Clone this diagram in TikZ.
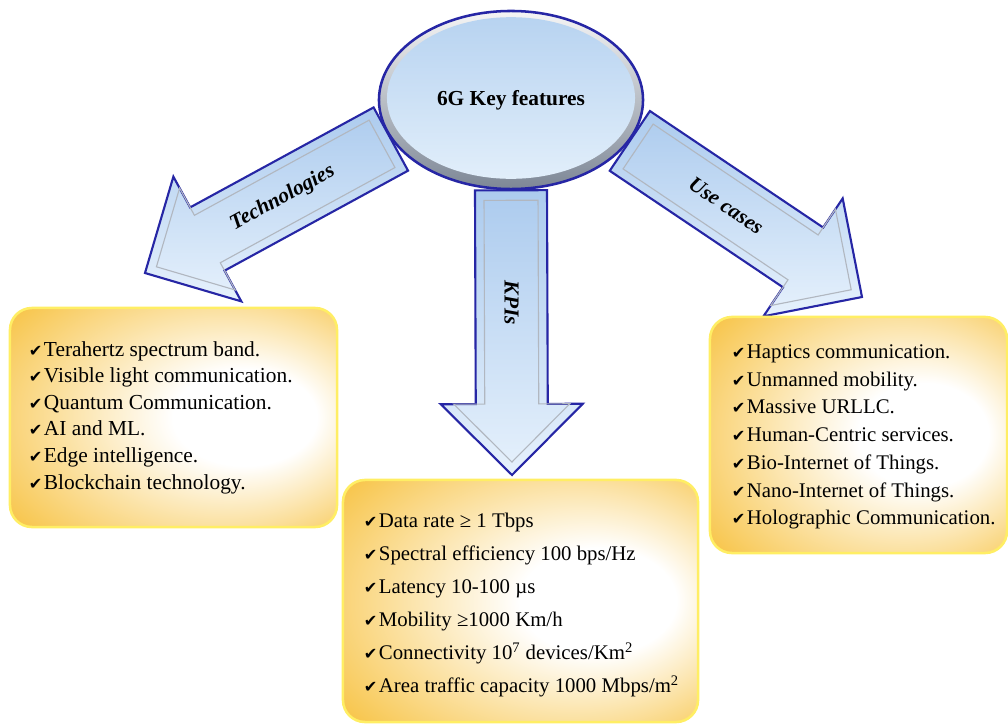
\documentclass[tikz,border=0pt]{standalone}
\usepackage{fontspec}
\setmainfont{Liberation Serif}
\newfontfamily\symfont{DejaVu Sans}
\usetikzlibrary{calc,shapes.geometric,backgrounds}

\definecolor{arrowline}{RGB}{38,38,165}
\definecolor{arrowdark}{RGB}{172,203,238}
\definecolor{arrowlight}{RGB}{230,241,252}
\definecolor{gold}{RGB}{246,186,40}
\definecolor{glow}{RGB}{255,238,100}
\definecolor{rimgray}{RGB}{125,135,150}
\definecolor{ovaltop}{RGB}{182,210,240}
\definecolor{ovalbottom}{RGB}{228,240,251}

\pgfdeclareradialshading{boxglow}{\pgfpoint{14bp}{0bp}}{color(0bp)=(white); color(11bp)=(white); color(42bp)=(gold); color(50bp)=(gold)}

\newcommand{\chk}{{\symfont\fontsize{11.5}{11.5}\selectfont ✔}\kern1pt}

% block arrow from #1 to its tip #2
\newcommand{\blockarrow}[2]{%
  \coordinate (#1b) at ($(#2)!1.775cm!(#1)$);
  \coordinate (#1i) at ($(#1)!0.25cm!(#2)$);
  \coordinate (#2i) at ($(#2)!0.325cm!(#1)$);
  \draw[arrowbody] ($(#1)!0.9cm!90:(#2)$) -- ($(#1b)!0.9cm!90:(#2)$) -- ($(#1b)!1.775cm!90:(#2)$) -- (#2)
    -- ($(#1b)!1.775cm!-90:(#2)$) -- ($(#1b)!0.9cm!-90:(#2)$) -- ($(#1)!0.9cm!-90:(#2)$) -- cycle;
  \draw[bevel] ($(#1i)!0.675cm!90:(#2)$) -- ($(#1b)!0.675cm!90:(#2)$) -- ($(#1b)!1.45cm!90:(#2)$) -- (#2i)
    -- ($(#1b)!1.45cm!-90:(#2)$) -- ($(#1b)!0.675cm!-90:(#2)$) -- ($(#1i)!0.675cm!-90:(#2)$) -- cycle;
}

\tikzset{
  keyoval/.style={ellipse, draw=arrowline, line width=1.8pt, minimum width=6.6cm, minimum height=4.45cm,
    inner sep=0pt, top color=gray!8, bottom color=rimgray, font=\bfseries\fontsize{15.2}{16}\selectfont,
    path picture={\shade[top color=ovaltop, bottom color=ovalbottom]
      ([yshift=0.05cm]path picture bounding box.center) ellipse [x radius=3.1cm, y radius=2.02cm];}},
  arrowbody/.style={draw=arrowline, line width=1.5pt, line join=miter, top color=arrowdark, bottom color=arrowlight},
  bevel/.style={draw=rimgray!60, line width=0.8pt, line join=miter},
  arrowlabel/.style={inner sep=0pt, font=\bfseries\itshape\fontsize{15.2}{16}\selectfont},
  listbox/.style={rounded corners=0.55cm, draw=glow, line width=1.8pt, shading=boxglow, inner sep=0pt},
  listtext/.style={anchor=west, align=left, inner sep=0pt}
}

\begin{document}
\begin{tikzpicture}[x=0.025cm, y=-0.025cm]
  \useasboundingbox (0,0) rectangle (1008,724);

  \node[keyoval] (key) at (511,100) {6G Key features};

  % arrows
  \coordinate (techS) at (key.198);
  \coordinate (techT) at (145,273);
  \coordinate (kpiS) at (key.south);
  \coordinate (kpiT) at (512,475);
  \coordinate (useS) at (key.-19);
  \coordinate (useT) at (862,297);
  \begin{scope}[on background layer]
    \fill[white] (0,0) rectangle (1008,724);
    \blockarrow{techS}{techT}
    \blockarrow{kpiS}{kpiT}
    \blockarrow{useS}{useT}
  \end{scope}
  \node[arrowlabel, rotate=28.8] (techlabel) at ($(techS)!0.44!(techT)$) {Technologies};
  \node[arrowlabel, rotate=-90] (kpilabel) at ($(kpiS)!0.395!(kpiT)$) {KPIs};
  \node[arrowlabel, rotate=-34] (uselabel) at ($(useS)!0.415!(useT)$) {Use cases};

  % boxes
  \node[listbox, minimum width=8.175cm, minimum height=5.475cm] (techbox) at (173.5,417.5) {};
  \node[listtext, font=\fontsize{15.2}{18.9}\selectfont] (techlist) at ([xshift=0.5cm]techbox.west) {%
    \chk Terahertz spectrum band.\\
    \chk Visible light communication.\\
    \chk Quantum Communication.\\
    \chk AI and ML.\\
    \chk Edge intelligence.\\
    \chk Blockchain technology.};

  \node[listbox, minimum width=8.875cm, minimum height=6.05cm] (kpibox) at (520.5,601) {};
  \node[listtext, font=\fontsize{14.8}{23.5}\selectfont] (kpilist) at ([xshift=0.55cm, yshift=-0.11cm]kpibox.west) {%
    \chk Data rate ≥ 1 Tbps\\
    \chk Spectral efficiency 100 bps/Hz\\
    \chk Latency 10-100 µs\\
    \chk Mobility ≥1000 Km/h\\
    \chk Connectivity 10\textsuperscript{7} devices/Km\textsuperscript{2}\\
    \chk Area traffic capacity 1000 Mbps/m\textsuperscript{2}};

  \node[listbox, minimum width=7.425cm, minimum height=5.9cm] (usebox) at (858.5,435) {};
  \node[listtext, font=\fontsize{14.8}{19.7}\selectfont] (uselist) at ([xshift=0.575cm, yshift=-0.05cm]usebox.west) {%
    \chk Haptics communication.\\
    \chk Unmanned mobility.\\
    \chk Massive URLLC.\\
    \chk Human-Centric services.\\
    \chk Bio-Internet of Things.\\
    \chk Nano-Internet of Things.\\
    \chk Holographic Communication.};
\end{tikzpicture}
\end{document}
